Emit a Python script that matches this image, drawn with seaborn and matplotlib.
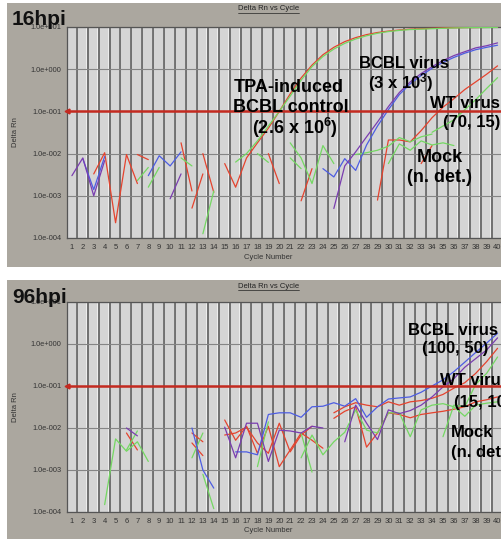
import numpy as np
import pandas as pd
import matplotlib
matplotlib.use('Agg')
import matplotlib.pyplot as plt
import seaborn as sns
from matplotlib.patches import Rectangle
from matplotlib.lines import Line2D
from matplotlib.ticker import NullLocator

# Delta Rn: (first cycle, values per cycle)
# --- 16 hpi ---
hpi16_red = [
    (3, [3.3e-3, 1.05e-2, 2.3e-4, 9.5e-3, 1.95e-3]),
    (7, [9.5e-3, 7.2e-3]),
    (11, [1.8e-2, 1.3e-3]),
    (12, [5.1e-4, 3.3e-3]),
    (13, [1.0e-2, 1.2e-3]),
    (15, [5.8e-3, 1.6e-3, 7.9e-3, 1.8e-2, 4.0e-2, 0.10, 0.26, 0.62, 1.25, 2.2, 3.3, 4.5, 5.6,
          6.6, 7.4, 8.0, 8.5, 8.9, 9.1, 9.3, 9.5, 9.6, 9.7, 9.7, 9.8, 9.8]),
    (19, [1.0e-2, 1.95e-3]),
    (22, [7.6e-4, 4.4e-3]),
    (29, [7.9e-4, 2.1e-2, 2.1e-2, 1.9e-2, 3.5e-2, 7.1e-2, 0.126, 0.2, 0.33, 0.5, 0.76, 1.2]),
    (33, [5.8e-3, 1.55e-2]),
]
hpi16_green = [
    (7, [2.3e-3, 4.7e-3]),
    (8, [1.6e-3, 4.7e-3]),
    (11, [7.9e-3, 5.1e-3]),
    (13, [1.26e-4, 1.3e-3]),
    (16, [6.3e-3, 1.0e-2, 2.0e-2, 4.5e-2, 0.10, 0.23, 0.55, 1.15, 2.0, 3.0, 4.1, 5.2, 6.2,
          7.1, 7.8, 8.3, 8.7, 8.9, 9.1, 9.3, 9.5, 9.6, 9.7, 9.7, 9.8]),
    (18, [1.0e-2, 6.2e-3]),
    (21, [1.8e-2, 7.9e-3, 1.95e-3, 1.55e-2, 5.8e-3]),
    (21, [7.9e-3, 4.4e-3]),
    (27, [9.5e-3, 1.05e-2, 1.2e-2, 1.5e-2, 2.4e-2, 1.9e-2, 2.5e-2, 2.9e-2]),
    (30, [5.8e-3, 1.7e-2, 1.2e-2, 2.0e-2, 1.6e-2, 1.8e-2, 1.55e-2]),
    (34, [3.2e-2, 4.5e-2, 6.3e-2, 0.11, 0.19, 0.35, 0.63]),
]
hpi16_blue = [
    (2, [7.5e-3, 1.4e-3, 8.5e-3]),
    (8, [3.0e-3, 8.9e-3, 5.1e-3, 1.1e-2]),
    (24, [4.4e-3, 2.8e-3, 7.6e-3, 4.0e-3, 1.6e-2, 4.5e-2, 0.11, 0.25, 0.45, 0.71, 1.05,
          1.45, 1.9, 2.4, 2.9, 3.3, 3.7]),
]
hpi16_purple = [
    (1, [3.0e-3, 7.9e-3, 1.0e-3, 6.8e-3]),
    (10, [8.5e-4, 3.3e-3]),
    (25, [5.0e-4, 5.1e-3, 1.1e-2, 2.5e-2, 5.6e-2, 0.13, 0.28, 0.5, 0.79, 1.15, 1.6, 2.1,
          2.6, 3.2, 3.6, 4.2]),
]

# --- 96 hpi ---
hpi96_red = [
    (6, [7.6e-3, 3.0e-3]),
    (12, [7.6e-3, 4.7e-3]),
    (12, [4.4e-3, 2.2e-3]),
    (15, [1.55e-2, 5.1e-3, 1.1e-2, 2.5e-3, 1.1e-2, 1.2e-3, 3.0e-3, 7.6e-3, 5.1e-3, 3.3e-3]),
    (15, [6.8e-3, 7.6e-3, 1.05e-2, 4.4e-3, 2.5e-3, 1.3e-2, 2.7e-3, 6.8e-3, 1.1e-2]),
    (25, [1.7e-2, 2.5e-2, 3.2e-2, 3.5e-3, 7.6e-3, 2.3e-2, 2.1e-2, 1.75e-2, 2.1e-2, 2.3e-2,
          2.5e-2, 2.8e-2, 3.2e-2, 4.2e-2, 4.7e-2, 5.5e-2]),
    (25, [2.3e-2, 3.2e-2, 4.0e-2, 3.5e-2, 3.2e-2, 4.2e-2, 3.5e-2, 4.2e-2, 4.5e-2, 5.1e-2,
          6.3e-2, 8.9e-2, 0.12, 0.2, 0.38, 0.79]),
]
hpi96_green = [
    (4, [1.5e-4, 5.5e-3, 2.8e-3, 4.7e-3, 1.6e-3]),
    (6, [3.0e-3, 8.5e-3]),
    (12, [1.95e-3, 7.6e-3]),
    (13, [7.9e-4, 1.2e-4]),
    (18, [1.2e-3, 1.4e-2]),
    (22, [1.95e-3, 6.8e-3, 2.3e-3, 4.7e-3, 7.9e-3, 2.7e-2, 8.9e-3, 7.6e-3, 2.3e-2, 2.3e-2,
          6.2e-3, 2.7e-2, 3.5e-2, 3.8e-2, 3.2e-2, 1.9e-2, 3.5e-2, 3.9e-2, 4.2e-2]),
    (22, [7.6e-3, 8.9e-4]),
    (35, [6.2e-3, 3.5e-2, 3.2e-2, 0.11, 0.2, 0.49]),
]
hpi96_blue = [
    (12, [1.0e-2, 1.0e-3, 3.7e-4]),
    (16, [2.7e-3, 2.7e-3, 2.3e-3, 2.1e-2, 2.3e-2, 2.3e-2, 1.8e-2, 3.2e-2, 3.3e-2, 4.0e-2,
          3.3e-2, 5.0e-2, 1.8e-2, 3.2e-2, 4.9e-2, 5.2e-2, 5.5e-2, 7.1e-2, 0.1, 0.14, 0.22,
          0.37, 0.63, 1.05, 1.8]),
]
hpi96_purple = [
    (6, [1.0e-2, 6.5e-3]),
    (15, [1.05e-2, 1.95e-3, 1.3e-2, 1.3e-2, 1.6e-3, 8.9e-3, 8.5e-3, 7.6e-3, 1.1e-2, 1.0e-2]),
    (26, [4.7e-3, 3.5e-2, 1.3e-2, 5.3e-3, 2.7e-2, 2.2e-2, 2.6e-2, 3.5e-2, 5.5e-2, 9.5e-2,
          0.15, 0.28, 0.45, 0.72, 1.4]),
]

cycles = list(range(1, 41))
decades = [1e1, 1e0, 1e-1, 1e-2, 1e-3, 1e-4]
decade_labels = ['1.0e+001', '1.0e+000', '1.0e-001', '1.0e-002', '1.0e-003', '1.0e-004']
threshold = 0.1

# annotation text: (text, centre x px, baseline y px, size)
notes16 = [('TPA-induced', 289, 92, 13), ('BCBL control', 291, 112, 13),
           (r'(2.6 x 10$^6$)', 295, 134, 13),
           ('BCBL virus', 404, 68, 12), (r'(3 x 10$^3$)', 401, 88, 12),
           ('WT virus', 465, 108, 12), ('(70, 15)', 472, 127, 12),
           ('Mock', 440, 162, 13), ('(n. det.)', 440, 182, 13)]
notes96 = [('BCBL virus', 453, 335, 12), ('(100, 50)', 455, 353, 12),
           ('WT virus', 475, 385, 12), ('(15, 10)', 483, 407, 12),
           ('Mock', 472, 437, 12), ('(n. det.)', 481, 457, 12)]

palette = {'red': '#e5432e', 'green': '#74d862', 'blue': '#4d5de2', 'purple': '#7a3db0'}

# long table, one segment id per trace
rows = []
for panel, groups in [('16hpi', {'red': hpi16_red, 'green': hpi16_green,
                                 'blue': hpi16_blue, 'purple': hpi16_purple}),
                      ('96hpi', {'red': hpi96_red, 'green': hpi96_green,
                                 'blue': hpi96_blue, 'purple': hpi96_purple})]:
    for color, traces in groups.items():
        for k, (start, vals) in enumerate(traces):
            for i, v in enumerate(vals):
                rows.append({'panel': panel, 'color': color, 'seg': f'{color}{k}',
                             'cycle': start + i, 'rn': v})
df = pd.DataFrame(rows)

sns.set_style('white')
plt.rcParams['font.family'] = ['Liberation Sans', 'DejaVu Sans']
plt.rcParams['mathtext.fontset'] = 'custom'
plt.rcParams['mathtext.rm'] = 'Liberation Sans:bold'
plt.rcParams['mathtext.it'] = 'Liberation Sans:bold'
plt.rcParams['mathtext.bf'] = 'Liberation Sans:bold'

W, H = 502, 539
fig = plt.figure(figsize=(W / 100, H / 100), dpi=100)
fig.patch.set_facecolor('white')


def fx(px):
    return px / W


def fy(py):
    return 1 - py / H


layout = [
    # name, plot top, plot bottom, frame top, frame bottom, title y, label baseline, xlabel top, notes
    ('16hpi', 27, 238, 3, 267, 9, 25, 254, notes16),
    ('96hpi', 302, 512, 280, 541, 286, 303, 527, notes96),
]

titles = []
for name, top, bot, ftop, fbot, ty, lb, xl, notes in layout:
    fig.add_artist(Rectangle((fx(7), fy(fbot)), 1 - fx(7), (fbot - ftop) / H,
                             transform=fig.transFigure, facecolor='#aba79f',
                             edgecolor='none', zorder=-10))
    ax = fig.add_axes([fx(67), fy(bot), 436 / W, (bot - top) / H])
    ax.set_facecolor('#d5d5d5')

    sns.lineplot(data=df[df['panel'] == name], x='cycle', y='rn', hue='color',
                 units='seg', estimator=None, palette=palette, legend=False,
                 lw=0.9, ax=ax, zorder=4)

    ax.set_yscale('log')
    ax.set_ylim(1e-4, 1e1)
    ax.set_xlim(0.55, 40.5)
    ax.yaxis.set_minor_locator(NullLocator())

    for c in cycles:
        ax.axvline(c + 0.33, color='#f2f2f2', lw=0.6, zorder=1)
        ax.axvline(c + 0.45, color='#555555', lw=1.1, zorder=1)
    for d in decades:
        ax.axhline(d, color='#858585', lw=0.8, zorder=1)

    ax.axhline(threshold, color='#c42a20', lw=1.8, zorder=5)
    ax.plot([0.55], [threshold], marker='<', ms=3.5, color='#c42a20',
            clip_on=False, zorder=6)

    ax.set_xticks(cycles)
    ax.set_xticklabels([str(c) for c in cycles], fontsize=5.5, color='#333333')
    ax.set_yticks(decades)
    ax.set_yticklabels(decade_labels, fontsize=5.3, color='#333333')
    ax.tick_params(length=0, pad=4)
    for s in ax.spines.values():
        s.set_color('#555555')
        s.set_linewidth(0.9)

    ax.set_xlabel('Cycle Number', fontsize=5.5, color='#333333')
    ax.xaxis.set_label_coords(0.462, -(xl - bot) / (bot - top))
    ax.set_ylabel('Delta Rn', fontsize=5.5, color='#333333')
    ax.yaxis.set_label_coords(-0.11, 0.5)

    t = ax.text(0.462, 1 + (top - ty) / (bot - top), 'Delta Rn vs Cycle',
                transform=ax.transAxes, ha='center', va='center',
                fontsize=5.5, color='#222222')
    titles.append(t)

    for txt, x, y, size in notes:
        fig.text(fx(x), fy(y), txt, ha='center', va='baseline', fontsize=size,
                 fontweight='bold', color='black', zorder=8)

    fig.text(fx(12), fy(lb), name, ha='left', va='baseline', fontsize=15,
             fontweight='bold', color='#111111', zorder=8)

# underline the chart titles
fig.canvas.draw()
renderer = fig.canvas.get_renderer()
for t in titles:
    bb = t.get_window_extent(renderer)
    fig.add_artist(Line2D([bb.x0 / W, bb.x1 / W], [(bb.y0 - 0.5) / H] * 2,
                          transform=fig.transFigure, color='#222222', lw=0.5))

fig.savefig('out.png', dpi=100)
